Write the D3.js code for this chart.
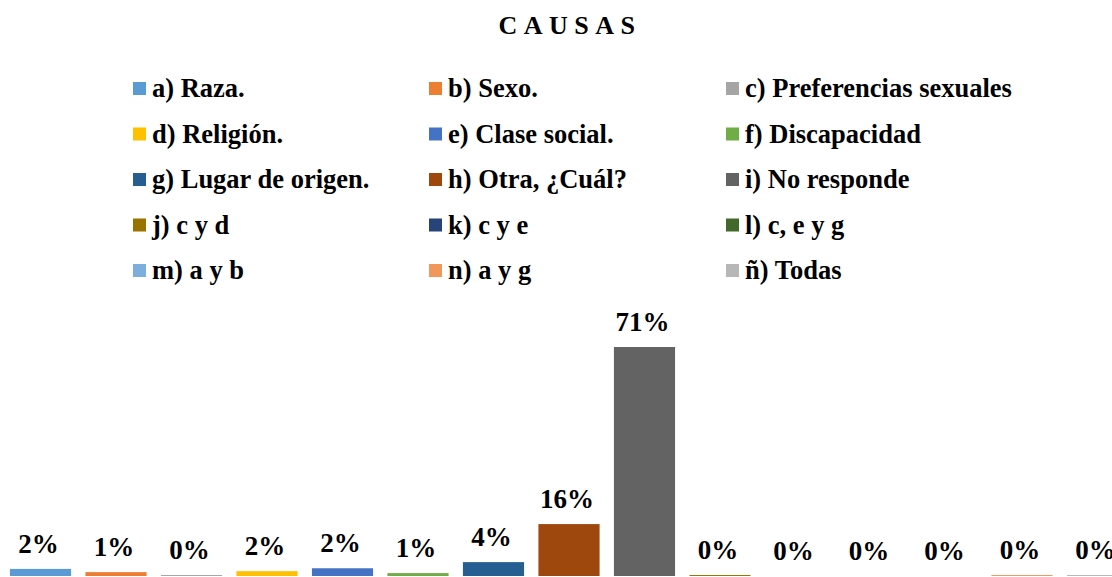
<!DOCTYPE html>
<html>
<head>
<meta charset="utf-8">
<script src="https://cdn.jsdelivr.net/npm/d3@7"></script>
<style>
  body { margin: 0; background: #fff; }
  svg { display: block; font-family: "Liberation Serif", "Times New Roman", serif; }
</style>
</head>
<body>
<svg id="chart" width="1112" height="577"></svg>
<script>
const categories = [
  "a) Raza.", "b) Sexo.", "c) Preferencias sexuales",
  "d) Religión.", "e) Clase social.", "f) Discapacidad",
  "g) Lugar de origen.", "h) Otra, ¿Cuál?", "i) No responde",
  "j) c y d", "k) c y e", "l) c, e y g",
  "m) a y b", "n) a y g", "ñ) Todas"
];
const values = [2.2, 1.2, 0.3, 1.5, 2.4, 0.9, 4.3, 16.1, 71, 0.3, 0, 0, 0, 0.3, 0.3];
const colors = [
  "#5B9BD5", "#ED7D31", "#A5A5A5", "#FFC000", "#4472C4", "#70AD47",
  "#255E91", "#9E480E", "#636363", "#997300", "#264478", "#43682B",
  "#7CAFDD", "#F1975A", "#B7B7B7"
];

const width = 1112;
const height = 577;
const baseline = 576;

const svg = d3.select("#chart");

// titulo
svg.append("text")
  .attr("x", 570)
  .attr("y", 34)
  .attr("text-anchor", "middle")
  .attr("font-size", 26)
  .attr("font-weight", "bold")
  .attr("letter-spacing", 6.5)
  .text("CAUSAS");

// leyenda 3 columnas
const legendCols = [133, 429, 726];
const legendTop = 82;
const rowStep = 45.5;

const legend = svg.append("g")
  .selectAll("g")
  .data(categories)
  .join("g")
  .attr("transform", (d, i) => `translate(${legendCols[i % 3]},${legendTop + Math.floor(i / 3) * rowStep})`);

legend.append("rect")
  .attr("width", 13)
  .attr("height", 13)
  .attr("fill", (d, i) => colors[i]);

legend.append("text")
  .attr("x", 19)
  .attr("y", 15)
  .attr("font-size", 26.5)
  .attr("font-weight", "bold")
  .text((d) => d);

// barras
const x = d3.scaleBand()
  .domain(categories)
  .range([2.75, 1135.25])
  .paddingInner(0.19)
  .paddingOuter(0.095);

const y = d3.scaleLinear()
  .domain([0, 80])
  .range([baseline, baseline - 80 * 3.225]);

const data = categories.map((c, i) => ({ cat: c, value: values[i], color: colors[i] }));

svg.append("g")
  .selectAll("rect")
  .data(data)
  .join("rect")
  .attr("x", (d) => x(d.cat))
  .attr("y", (d) => y(d.value))
  .attr("width", x.bandwidth())
  .attr("height", (d) => y(0) - y(d.value))
  .attr("fill", (d) => d.color);

svg.append("g")
  .selectAll("text")
  .data(data)
  .join("text")
  .attr("x", (d) => x(d.cat) + x.bandwidth() / 2 - 2)
  .attr("y", (d) => y(d.value) - 16)
  .attr("text-anchor", "middle")
  .attr("font-size", 27)
  .attr("font-weight", "bold")
  .text((d) => `${Math.round(d.value)}%`);
</script>
</body>
</html>
